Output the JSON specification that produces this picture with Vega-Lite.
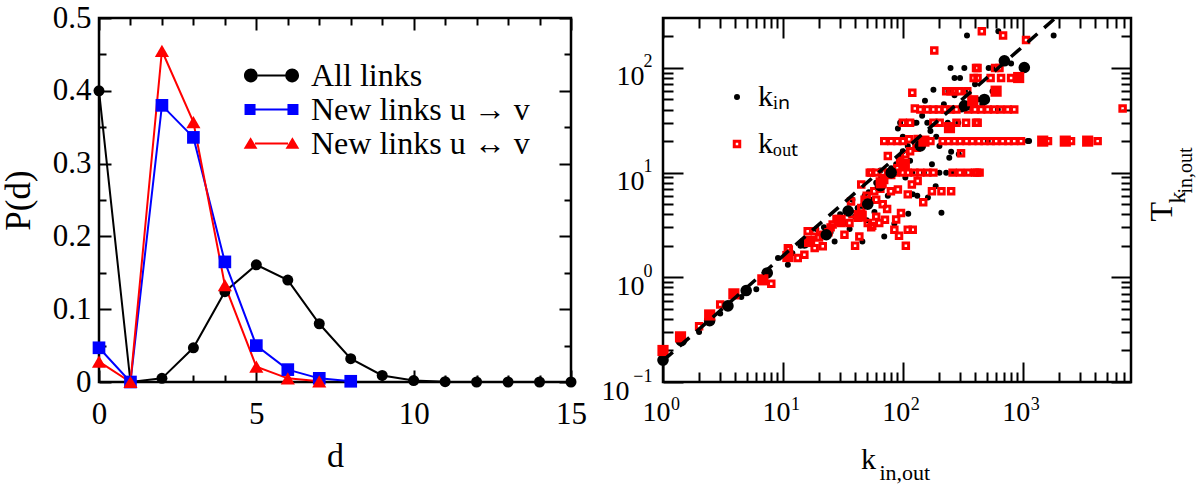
{
  "$schema": "https://vega.github.io/schema/vega-lite/v6.json",
  "autosize": {"type": "pad"},
  "padding": {"left": -1, "top": 0, "right": 12, "bottom": 0},
  "bounds": "flush",
  "spacing": 92,
  "background": "white",
  "resolve": {"scale": {"color": "independent", "shape": "independent", "size": "independent"}},
  "config": {
    "view": {"stroke": "black", "strokeWidth": 2.5},
    "axis": {"labelFont": "Liberation Serif", "titleFont": "Liberation Serif", "labelColor": "black", "titleColor": "black", "tickColor": "black", "tickWidth": 2, "domain": false, "grid": false, "titleFontWeight": "normal", "labelFlush": false, "labelOverlap": false, "labelBound": false},
    "legend": {"labelFont": "Liberation Serif", "labelColor": "black"}
  },
  "datasets": {
    "pd": [
      {"s": "All links", "d": 0, "p": 0.4}, {"s": "All links", "d": 1, "p": 0.0}, {"s": "All links", "d": 2, "p": 0.005}, {"s": "All links", "d": 3, "p": 0.047},
      {"s": "All links", "d": 4, "p": 0.124}, {"s": "All links", "d": 5, "p": 0.161}, {"s": "All links", "d": 6, "p": 0.14}, {"s": "All links", "d": 7, "p": 0.08},
      {"s": "All links", "d": 8, "p": 0.032}, {"s": "All links", "d": 9, "p": 0.009}, {"s": "All links", "d": 10, "p": 0.002}, {"s": "All links", "d": 11, "p": 0.0005},
      {"s": "All links", "d": 12, "p": 0.0}, {"s": "All links", "d": 13, "p": 0.0}, {"s": "All links", "d": 14, "p": 0.0}, {"s": "All links", "d": 15, "p": 0.0},
      {"s": "New links u → v", "d": 0, "p": 0.047}, {"s": "New links u → v", "d": 1, "p": 0.0}, {"s": "New links u → v", "d": 2, "p": 0.38}, {"s": "New links u → v", "d": 3, "p": 0.336},
      {"s": "New links u → v", "d": 4, "p": 0.165}, {"s": "New links u → v", "d": 5, "p": 0.05}, {"s": "New links u → v", "d": 6, "p": 0.017}, {"s": "New links u → v", "d": 7, "p": 0.005},
      {"s": "New links u → v", "d": 8, "p": 0.001},
      {"s": "New links u ↔ v", "d": 0, "p": 0.028}, {"s": "New links u ↔ v", "d": 1, "p": 0.0}, {"s": "New links u ↔ v", "d": 2, "p": 0.455}, {"s": "New links u ↔ v", "d": 3, "p": 0.357},
      {"s": "New links u ↔ v", "d": 4, "p": 0.133}, {"s": "New links u ↔ v", "d": 5, "p": 0.021}, {"s": "New links u ↔ v", "d": 6, "p": 0.005}, {"s": "New links u ↔ v", "d": 7, "p": 0.001}
    ],
    "small": [
      {"s":"k_in","k":2,"t":0.3},{"s":"k_in","k":3,"t":0.45},{"s":"k_in","k":4.5,"t":0.65},{"s":"k_in","k":6,"t":0.77},{"s":"k_in","k":9.1,"t":1.53},
      {"s":"k_in","k":11,"t":1.32},{"s":"k_in","k":12,"t":1.7},{"s":"k_in","k":14,"t":2.0},{"s":"k_in","k":17,"t":2.3},{"s":"k_in","k":19,"t":2.9},
      {"s":"k_in","k":22,"t":3.0},{"s":"k_in","k":25,"t":2.7},{"s":"k_in","k":27,"t":2.2},{"s":"k_in","k":28,"t":3.5},{"s":"k_in","k":30,"t":4.0},
      {"s":"k_in","k":33,"t":3.3},{"s":"k_in","k":35,"t":4.5},{"s":"k_in","k":36,"t":2.9},{"s":"k_in","k":38,"t":5.5},{"s":"k_in","k":40,"t":3.8},
      {"s":"k_in","k":42,"t":4.6},{"s":"k_in","k":46,"t":4.8},{"s":"k_in","k":46,"t":2.2},{"s":"k_in","k":48,"t":6.0},{"s":"k_in","k":50,"t":3.5},
      {"s":"k_in","k":52,"t":6.5},{"s":"k_in","k":55,"t":5.5},{"s":"k_in","k":58,"t":4.2},{"s":"k_in","k":60,"t":8.0},{"s":"k_in","k":62,"t":7.0},
      {"s":"k_in","k":65,"t":10.5},{"s":"k_in","k":66,"t":9.0},{"s":"k_in","k":70,"t":2.45},{"s":"k_in","k":75,"t":6.0},{"s":"k_in","k":75,"t":9.5},
      {"s":"k_in","k":80,"t":11},{"s":"k_in","k":85,"t":3.24},{"s":"k_in","k":88,"t":12},{"s":"k_in","k":91,"t":26.4},{"s":"k_in","k":95,"t":14},
      {"s":"k_in","k":95,"t":30},{"s":"k_in","k":100,"t":16},{"s":"k_in","k":100,"t":22},{"s":"k_in","k":105,"t":9},{"s":"k_in","k":110,"t":18},
      {"s":"k_in","k":111,"t":4.04},{"s":"k_in","k":115,"t":13},{"s":"k_in","k":120,"t":10},{"s":"k_in","k":121,"t":6.2},{"s":"k_in","k":125,"t":30},
      {"s":"k_in","k":130,"t":30},{"s":"k_in","k":132,"t":6.0},{"s":"k_in","k":140,"t":20},{"s":"k_in","k":145,"t":35},{"s":"k_in","k":150,"t":10},
      {"s":"k_in","k":153,"t":48.6},{"s":"k_in","k":160,"t":30},{"s":"k_in","k":162,"t":5.8},{"s":"k_in","k":170,"t":25},{"s":"k_in","k":175,"t":12},
      {"s":"k_in","k":180,"t":62},{"s":"k_in","k":188,"t":7.4},{"s":"k_in","k":190,"t":22},{"s":"k_in","k":202,"t":18},{"s":"k_in","k":202,"t":10},
      {"s":"k_in","k":210,"t":4.13},{"s":"k_in","k":220,"t":45},{"s":"k_in","k":230,"t":10},{"s":"k_in","k":237,"t":30},{"s":"k_in","k":240,"t":60},
      {"s":"k_in","k":244,"t":13.9},{"s":"k_in","k":250,"t":100},{"s":"k_in","k":253,"t":15.8},{"s":"k_in","k":261,"t":10},{"s":"k_in","k":270,"t":80},
      {"s":"k_in","k":270,"t":55},{"s":"k_in","k":290,"t":30},{"s":"k_in","k":293,"t":15},{"s":"k_in","k":300,"t":80},{"s":"k_in","k":310,"t":40},
      {"s":"k_in","k":326,"t":100},{"s":"k_in","k":326,"t":10},{"s":"k_in","k":330,"t":60},{"s":"k_in","k":343,"t":204},{"s":"k_in","k":350,"t":42},
      {"s":"k_in","k":400,"t":70},{"s":"k_in","k":420,"t":50},{"s":"k_in","k":460,"t":45},{"s":"k_in","k":511,"t":20},{"s":"k_in","k":520,"t":100},
      {"s":"k_in","k":560,"t":60},{"s":"k_in","k":560,"t":100},{"s":"k_in","k":620,"t":40},{"s":"k_in","k":626,"t":224},{"s":"k_in","k":680,"t":120},
      {"s":"k_in","k":800,"t":110},{"s":"k_in","k":1100,"t":20},{"s":"k_in","k":1130,"t":20},{"s":"k_in","k":1811,"t":204},
      {"s":"k_out","k":2,"t":0.34},{"s":"k_out","k":3,"t":0.55},{"s":"k_out","k":8,"t":0.87},{"s":"k_out","k":11,"t":1.9},{"s":"k_out","k":11.2,"t":1.84},
      {"s":"k_out","k":13.3,"t":1.53},{"s":"k_out","k":15.1,"t":1.64},{"s":"k_out","k":16.1,"t":2.75},{"s":"k_out","k":18.4,"t":2.75},{"s":"k_out","k":18.4,"t":1.9},
      {"s":"k_out","k":20,"t":2.4},{"s":"k_out","k":21.5,"t":2.55},{"s":"k_out","k":21.5,"t":1.98},{"s":"k_out","k":24,"t":2.7},{"s":"k_out","k":25,"t":3.0},
      {"s":"k_out","k":26,"t":3.2},{"s":"k_out","k":28,"t":3.6},{"s":"k_out","k":30.6,"t":3.31},{"s":"k_out","k":32.6,"t":2.55},{"s":"k_out","k":35.9,"t":3.31},
      {"s":"k_out","k":37,"t":5.3},{"s":"k_out","k":38,"t":4.0},{"s":"k_out","k":40,"t":2.0},{"s":"k_out","k":42,"t":3.7},{"s":"k_out","k":43.4,"t":2.45},
      {"s":"k_out","k":45,"t":7.7},{"s":"k_out","k":45,"t":4.6},{"s":"k_out","k":48,"t":5.5},{"s":"k_out","k":50,"t":6.0},{"s":"k_out","k":51,"t":3.31},
      {"s":"k_out","k":54.5,"t":3.0},{"s":"k_out","k":54.5,"t":10},{"s":"k_out","k":55.6,"t":3.1},{"s":"k_out","k":57.8,"t":6.65},{"s":"k_out","k":60,"t":5.5},
      {"s":"k_out","k":60,"t":3.8},{"s":"k_out","k":63.6,"t":3.31},{"s":"k_out","k":65,"t":7.0},{"s":"k_out","k":68,"t":5.0},{"s":"k_out","k":70,"t":8.5},
      {"s":"k_out","k":71,"t":3.54},{"s":"k_out","k":74,"t":4.5},{"s":"k_out","k":75,"t":14.4},{"s":"k_out","k":79.6,"t":6.65},{"s":"k_out","k":80,"t":9.5},
      {"s":"k_out","k":85,"t":2.85},{"s":"k_out","k":88,"t":3.56},{"s":"k_out","k":90,"t":11},{"s":"k_out","k":91,"t":6.9},{"s":"k_out","k":93,"t":2.5},
      {"s":"k_out","k":95,"t":13},{"s":"k_out","k":96.6,"t":4.12},{"s":"k_out","k":100,"t":12},{"s":"k_out","k":105,"t":15},{"s":"k_out","k":106,"t":2.0},
      {"s":"k_out","k":110,"t":2.85},{"s":"k_out","k":110,"t":6.2},{"s":"k_out","k":113,"t":20.8},{"s":"k_out","k":115,"t":16},{"s":"k_out","k":119,"t":7.7},
      {"s":"k_out","k":120,"t":58},{"s":"k_out","k":121,"t":2.85},{"s":"k_out","k":125,"t":10},{"s":"k_out","k":126,"t":41},{"s":"k_out","k":130,"t":17.3},
      {"s":"k_out","k":133,"t":21},{"s":"k_out","k":133,"t":8.3},{"s":"k_out","k":148,"t":5.2},{"s":"k_out","k":175,"t":6.65},{"s":"k_out","k":183,"t":147},
      {"s":"k_out","k":203,"t":30},{"s":"k_out","k":210,"t":6.65},{"s":"k_out","k":253,"t":6.65},{"s":"k_out","k":306,"t":15.3},{"s":"k_out","k":337,"t":30},
      {"s":"k_out","k":408,"t":30},{"s":"k_out","k":421,"t":30},{"s":"k_out","k":416,"t":10},{"s":"k_out","k":437,"t":10},{"s":"k_out","k":456,"t":224},
      {"s":"k_out","k":686,"t":204},{"s":"k_out","k":1066,"t":185},{"s":"k_out","k":6810,"t":41},{"s":"k_out","k":968,"t":20},{"s":"k_out","k":1625,"t":20},
      {"s":"k_out","k":2528,"t":20},{"s":"k_out","k":4217,"t":20},{"s":"k_out","k":408,"t":100},{"s":"k_out","k":588,"t":100},
      {"s":"k_out","k":53,"t":10},{"s":"k_out","k":60,"t":10},{"s":"k_out","k":68,"t":10},{"s":"k_out","k":77,"t":10},{"s":"k_out","k":87,"t":10},
      {"s":"k_out","k":100,"t":10},{"s":"k_out","k":110,"t":10},{"s":"k_out","k":140,"t":10},{"s":"k_out","k":160,"t":10},{"s":"k_out","k":180,"t":10},
      {"s":"k_out","k":260,"t":10},{"s":"k_out","k":300,"t":10},{"s":"k_out","k":350,"t":10},{"s":"k_out","k":400,"t":10},
      {"s":"k_out","k":70,"t":20},{"s":"k_out","k":80,"t":20},{"s":"k_out","k":90,"t":20},{"s":"k_out","k":100,"t":20},{"s":"k_out","k":150,"t":20},
      {"s":"k_out","k":170,"t":20},{"s":"k_out","k":215,"t":20},{"s":"k_out","k":240,"t":20},{"s":"k_out","k":270,"t":20},{"s":"k_out","k":300,"t":20},
      {"s":"k_out","k":340,"t":20},{"s":"k_out","k":380,"t":20},{"s":"k_out","k":430,"t":20},{"s":"k_out","k":480,"t":20},{"s":"k_out","k":540,"t":20},
      {"s":"k_out","k":600,"t":20},{"s":"k_out","k":680,"t":20},{"s":"k_out","k":760,"t":20},{"s":"k_out","k":850,"t":20},
      {"s":"k_out","k":100,"t":30},{"s":"k_out","k":115,"t":30},{"s":"k_out","k":180,"t":30},{"s":"k_out","k":280,"t":30},
      {"s":"k_out","k":140,"t":40},{"s":"k_out","k":160,"t":40},{"s":"k_out","k":180,"t":40},{"s":"k_out","k":200,"t":40},{"s":"k_out","k":225,"t":40},
      {"s":"k_out","k":250,"t":40},{"s":"k_out","k":280,"t":40},{"s":"k_out","k":350,"t":40},{"s":"k_out","k":400,"t":40},{"s":"k_out","k":450,"t":40},
      {"s":"k_out","k":510,"t":40},{"s":"k_out","k":580,"t":40},{"s":"k_out","k":650,"t":40},{"s":"k_out","k":750,"t":40},{"s":"k_out","k":850,"t":40},
      {"s":"k_out","k":230,"t":60},{"s":"k_out","k":250,"t":60},{"s":"k_out","k":270,"t":60},{"s":"k_out","k":295,"t":60},{"s":"k_out","k":345,"t":60},
      {"s":"k_out","k":390,"t":80},{"s":"k_out","k":420,"t":80},{"s":"k_out","k":540,"t":80},{"s":"k_out","k":660,"t":80},{"s":"k_out","k":800,"t":80},
      {"s":"k_out","k":420,"t":100},{"s":"k_out","k":640,"t":100}
    ],
    "big": [
      {"s":"k_in","k":1,"t":0.162},{"s":"k_in","k":1.42,"t":0.248},{"s":"k_in","k":2.45,"t":0.386},{"s":"k_in","k":3.48,"t":0.533},{"s":"k_in","k":4.94,"t":0.748},
      {"s":"k_in","k":7.4,"t":1.1},{"s":"k_in","k":15.1,"t":2.13},{"s":"k_in","k":23,"t":2.55},{"s":"k_in","k":35,"t":4.3},{"s":"k_in","k":51,"t":5.0},
      {"s":"k_in","k":65,"t":7.5},{"s":"k_in","k":80,"t":10},{"s":"k_in","k":140,"t":18},{"s":"k_in","k":326,"t":43.5},{"s":"k_in","k":479,"t":50},
      {"s":"k_in","k":703,"t":117},{"s":"k_in","k":1031,"t":101},
      {"s":"k_out","k":1,"t":0.2},{"s":"k_out","k":1.4,"t":0.27},{"s":"k_out","k":2.45,"t":0.437},{"s":"k_out","k":3.9,"t":0.695},{"s":"k_out","k":6.8,"t":0.946},
      {"s":"k_out","k":11,"t":1.58},{"s":"k_out","k":16.7,"t":2.2},{"s":"k_out","k":30,"t":3.5},{"s":"k_out","k":45,"t":3.84},{"s":"k_out","k":66,"t":8.0},
      {"s":"k_out","k":103,"t":12},{"s":"k_out","k":150,"t":20},{"s":"k_out","k":245,"t":26.9},{"s":"k_out","k":383,"t":48.6},{"s":"k_out","k":600,"t":60},
      {"s":"k_out","k":925,"t":81},{"s":"k_out","k":1468,"t":20},{"s":"k_out","k":2265,"t":20},{"s":"k_out","k":3480,"t":20}
    ],
    "fit": [{"k": 1, "t": 0.16}, {"k": 1875, "t": 300}]
  },
  "hconcat": [
    {
      "width": 472,
      "height": 364,
      "resolve": {"axis": {"x": "independent", "y": "independent"}},
      "layer": [
        {
          "data": {"name": "pd"},
          "transform": [{"filter": "datum.s == 'All links'"}],
          "mark": {"type": "line", "strokeWidth": 2, "color": "black"},
          "encoding": {
            "x": {"field": "d", "type": "quantitative", "scale": {"domain": [0, 15], "nice": false, "zero": false},
              "axis": {"orient": "bottom", "values": [0, 5, 10, 15], "format": "d", "tickSize": -12, "labelFontSize": 31, "labelPadding": 29, "title": "d", "titleFontSize": 34, "titleX": 236, "titleY": 84, "titleAlign": "center", "titleBaseline": "alphabetic"}},
            "y": {"field": "p", "type": "quantitative", "scale": {"domain": [0, 0.5], "nice": false},
              "axis": {"orient": "left", "values": [0, 0.1, 0.2, 0.3, 0.4, 0.5], "tickSize": -12, "labelFontSize": 31, "labelPadding": 20, "labelExpr": "datum.value == 0 ? '0' : format(datum.value, '.1f')", "title": "P(d)", "titleFontSize": 35, "titleAngle": -90, "titleX": -70, "titleY": 182, "titleAlign": "center", "titleBaseline": "alphabetic"}}
          }
        },
        {
          "data": {"name": "pd"},
          "transform": [{"filter": "datum.s == 'New links u → v'"}],
          "mark": {"type": "line", "strokeWidth": 2, "color": "#0000ff"},
          "encoding": {
            "x": {"field": "d", "type": "quantitative", "axis": {"orient": "top", "values": [0, 5, 10, 15], "tickSize": -12, "labels": false, "title": null}},
            "y": {"field": "p", "type": "quantitative", "axis": {"orient": "right", "values": [0, 0.1, 0.2, 0.3, 0.4, 0.5], "tickSize": -12, "labels": false, "title": null}}
          }
        },
        {
          "data": {"name": "pd"},
          "transform": [{"filter": "datum.s == 'New links u ↔ v'"}],
          "mark": {"type": "line", "strokeWidth": 2, "color": "#ff0000"},
          "encoding": {
            "x": {"field": "d", "type": "quantitative", "axis": {"orient": "bottom", "values": [1, 2, 3, 4, 6, 7, 8, 9, 11, 12, 13, 14], "tickSize": -7, "labels": false, "title": null}},
            "y": {"field": "p", "type": "quantitative", "axis": {"orient": "left", "values": [0.05, 0.15, 0.25, 0.35, 0.45], "tickSize": -7, "labels": false, "title": null}}
          }
        },
        {
          "data": {"name": "pd"},
          "mark": {"type": "point", "filled": true, "opacity": 1},
          "encoding": {
            "x": {"field": "d", "type": "quantitative", "axis": {"orient": "top", "values": [1, 2, 3, 4, 6, 7, 8, 9, 11, 12, 13, 14], "tickSize": -7, "labels": false, "title": null}},
            "y": {"field": "p", "type": "quantitative", "axis": {"orient": "right", "values": [0.05, 0.15, 0.25, 0.35, 0.45], "tickSize": -7, "labels": false, "title": null}},
            "shape": {"field": "s", "type": "nominal", "scale": {"domain": ["New links u → v", "All links", "New links u ↔ v"], "range": ["square", "circle", "triangle-up"]}, "legend": null},
            "size": {"field": "s", "type": "nominal", "scale": {"domain": ["New links u ↔ v", "New links u → v", "All links"], "range": [200, 121, 165]}, "legend": null},
            "color": {"field": "s", "type": "nominal", "scale": {"domain": ["All links", "New links u → v", "New links u ↔ v"], "range": ["black", "#0000ff", "#ff0000"]},
              "legend": {"orient": "none", "legendX": 155, "legendY": 40, "title": null, "padding": 0, "symbolSize": 1183, "symbolStrokeWidth": 0, "symbolOpacity": 1, "labelFontSize": 32, "labelOffset": 22, "labelLimit": 0, "rowPadding": 0,
                "symbolType": {"expr": "datum.index == 0 ? 'M-0.8,-0.056L0.8,-0.056L0.8,0.056L-0.8,0.056Z M-0.8,0A0.4,0.4,0,1,1,-1.6,0A0.4,0.4,0,1,1,-0.8,0Z M1.6,0A0.4,0.4,0,1,1,0.8,0A0.4,0.4,0,1,1,1.6,0Z' : datum.index == 1 ? 'M-1.568,-0.32H-0.928V0.32H-1.568Z M0.928,-0.32H1.568V0.32H0.928Z M-0.928,-0.056H0.928V0.056H-0.928Z' : 'M-1.216,-0.368L-0.816,0.304L-1.616,0.304Z M1.216,-0.368L1.616,0.304L0.816,0.304Z M-0.96,-0.056H0.96V0.056H-0.96Z'"}}}
          }
        }
      ]
    },
    {
      "width": 468,
      "height": 364,
      "resolve": {"axis": {"x": "independent", "y": "independent"}},
      "layer": [
        {
          "data": {"name": "small"},
          "transform": [{"filter": "datum.s == 'k_in'"}],
          "mark": {"type": "point", "filled": false, "strokeWidth": 3, "opacity": 1},
          "encoding": {
            "x": {"field": "k", "type": "quantitative", "scale": {"type": "log", "domain": [1, 8000], "nice": false},
              "axis": {"orient": "bottom", "values": [1, 10, 100, 1000], "labelExpr": "'10'", "tickSize": -20, "labelFontSize": 28, "labelPadding": 36, "labelOffset": -7, "title": "k", "titleFontSize": 30, "titleX": 205, "titleY": 86, "titleAlign": "center", "titleBaseline": "alphabetic"}},
            "y": {"field": "t", "type": "quantitative", "scale": {"type": "log", "domain": [0.1, 300], "nice": false},
              "axis": {"orient": "left", "values": [0.1, 1, 10, 100], "labelExpr": "'10'", "tickSize": -20, "labelFontSize": 28, "labelAlign": "right", "labelBaseline": "middle", "labelPadding": {"condition": {"test": "datum.value < 0.5", "value": 54}, "value": 39}, "labelOffset": 9, "title": null}},
            "color": {"field": "s", "type": "nominal", "scale": {"domain": ["k_in", "k_out"], "range": ["black", "#ff0000"]},
              "legend": {"orient": "none", "legendX": 59, "legendY": 64, "title": null, "padding": 0, "symbolStrokeWidth": 3, "labelFontSize": 30, "labelOffset": 6, "labelLimit": 0, "rowPadding": 17, "labelExpr": "datum.value == 'k_in' ? 'kᵢₙ' : 'kₒᵤₜ'"}},
            "shape": {"field": "s", "type": "nominal", "scale": {"domain": ["k_in", "k_out"], "range": ["circle", "square"]},
              "legend": {"orient": "none", "legendX": 59, "legendY": 64, "title": null, "padding": 0, "symbolStrokeWidth": 3, "labelFontSize": 30, "labelOffset": 6, "labelLimit": 0, "rowPadding": 17, "labelExpr": "datum.value == 'k_in' ? 'kᵢₙ' : 'kₒᵤₜ'"}},
            "size": {"field": "s", "type": "nominal", "scale": {"domain": ["k_in", "k_out"], "range": [9, 30]},
              "legend": {"orient": "none", "legendX": 59, "legendY": 64, "title": null, "padding": 0, "symbolStrokeWidth": 3, "labelFontSize": 30, "labelOffset": 6, "labelLimit": 0, "rowPadding": 17, "labelExpr": "datum.value == 'k_in' ? 'kᵢₙ' : 'kₒᵤₜ'"}}
          }
        },
        {
          "data": {"name": "small"},
          "transform": [{"filter": "datum.s == 'k_out'"}],
          "mark": {"type": "point", "filled": false, "strokeWidth": 3, "opacity": 1},
          "encoding": {
            "x": {"field": "k", "type": "quantitative",
              "axis": {"orient": "bottom", "values": [1, 10, 100, 1000], "labelExpr": "format(log(datum.value)/LN10, 'd')", "ticks": false, "tickSize": 0, "labelFontSize": 18, "labelPadding": 13, "labelOffset": 12, "title": "in,out", "titleFontSize": 22, "titleX": 216, "titleY": 97, "titleAlign": "left", "titleBaseline": "alphabetic"}},
            "y": {"field": "t", "type": "quantitative",
              "axis": {"orient": "left", "values": [0.1, 1, 10, 100], "labelExpr": "datum.value < 0.5 ? '−1' : format(log(datum.value)/LN10, 'd')", "ticks": false, "tickSize": 0, "labelFontSize": 18, "labelAlign": "right", "labelBaseline": "middle", "labelPadding": 11, "labelOffset": -6, "title": null}},
            "color": {"field": "s", "type": "nominal",
              "legend": {"orient": "none", "legendX": 59, "legendY": 64, "title": null, "padding": 0, "symbolStrokeWidth": 3, "labelFontSize": 30, "labelOffset": 6, "labelLimit": 0, "rowPadding": 17, "labelExpr": "datum.value == 'k_in' ? 'kᵢₙ' : 'kₒᵤₜ'"}},
            "shape": {"field": "s", "type": "nominal",
              "legend": {"orient": "none", "legendX": 59, "legendY": 64, "title": null, "padding": 0, "symbolStrokeWidth": 3, "labelFontSize": 30, "labelOffset": 6, "labelLimit": 0, "rowPadding": 17, "labelExpr": "datum.value == 'k_in' ? 'kᵢₙ' : 'kₒᵤₜ'"}},
            "size": {"field": "s", "type": "nominal",
              "legend": {"orient": "none", "legendX": 59, "legendY": 64, "title": null, "padding": 0, "symbolStrokeWidth": 3, "labelFontSize": 30, "labelOffset": 6, "labelLimit": 0, "rowPadding": 17, "labelExpr": "datum.value == 'k_in' ? 'kᵢₙ' : 'kₒᵤₜ'"}}
          }
        },
        {
          "data": {"name": "big"},
          "transform": [{"filter": "datum.s == 'k_in'"}],
          "mark": {"type": "point", "filled": true, "shape": "circle", "color": "black", "size": 135, "opacity": 1},
          "encoding": {
            "x": {"field": "k", "type": "quantitative", "axis": {"orient": "bottom", "values": [2,3,4,5,6,7,8,9,20,30,40,50,60,70,80,90,200,300,400,500,600,700,800,900,2000,3000,4000,5000,6000,7000], "tickSize": -10, "labels": false, "title": null}},
            "y": {"field": "t", "type": "quantitative", "axis": {"orient": "right", "values": [0.1, 1, 10, 100], "tickSize": -20, "labels": false, "title": "T", "titleFontSize": 32, "titleAngle": -90, "titleX": 40, "titleY": 203, "titleAlign": "left", "titleBaseline": "alphabetic"}}
          }
        },
        {
          "data": {"name": "big"},
          "transform": [{"filter": "datum.s == 'k_out'"}],
          "mark": {"type": "point", "filled": true, "shape": "square", "color": "#ff0000", "size": 125, "opacity": 1},
          "encoding": {
            "x": {"field": "k", "type": "quantitative", "axis": {"orient": "top", "values": [1, 10, 100, 1000], "tickSize": -20, "labels": false, "title": null}},
            "y": {"field": "t", "type": "quantitative", "axis": {"orient": "right", "values": [0.2,0.3,0.4,0.5,0.6,0.7,0.8,0.9,2,3,4,5,6,7,8,9,20,30,40,50,60,70,80,90,200], "tickSize": -10, "labels": false, "title": "k", "titleFontSize": 24, "titleAngle": -90, "titleX": 53, "titleY": 185, "titleAlign": "left", "titleBaseline": "alphabetic"}}
          }
        },
        {
          "data": {"name": "fit"},
          "mark": {"type": "line", "color": "black", "strokeWidth": 3.5, "strokeDash": [13, 9]},
          "encoding": {
            "x": {"field": "k", "type": "quantitative", "axis": {"orient": "top", "values": [2,3,4,5,6,7,8,9,20,30,40,50,60,70,80,90,200,300,400,500,600,700,800,900,2000,3000,4000,5000,6000,7000], "tickSize": -10, "labels": false, "title": null}},
            "y": {"field": "t", "type": "quantitative", "axis": {"orient": "left", "values": [0.2,0.3,0.4,0.5,0.6,0.7,0.8,0.9,2,3,4,5,6,7,8,9,20,30,40,50,60,70,80,90,200], "tickSize": -10, "labels": false, "title": "in,out", "titleFontSize": 20, "titleAngle": -90, "titleX": 528, "titleY": 175, "titleAlign": "left", "titleBaseline": "alphabetic"}}
          }
        }
      ]
    }
  ]
}
